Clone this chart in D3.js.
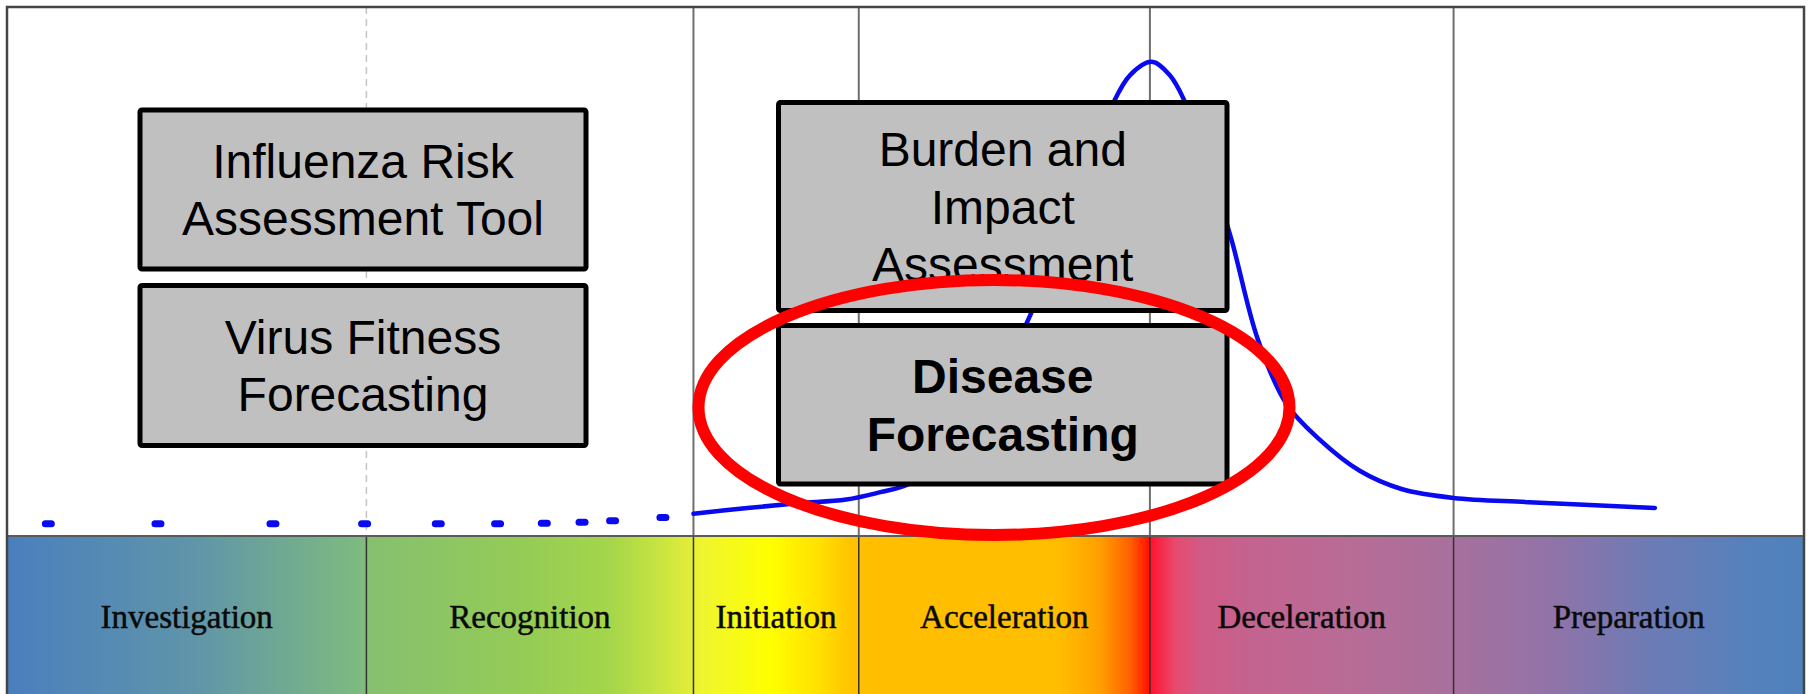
<!DOCTYPE html>
<html>
<head>
<meta charset="utf-8">
<script src="https://cdn.jsdelivr.net/npm/d3@7"></script>
<style>
  body { margin: 0; background: #fff; }
  svg  { display: block; }
</style>
</head>
<body>
<div id="chart"></div>
<script>
// Pandemic intervals diagram: epidemic curve over the six phases, with the tool boxes on top.
//

const phaseNames  = ['Investigation', 'Recognition', 'Initiation', 'Acceleration', 'Deceleration', 'Preparation'];
const phaseBounds = [0, 20, 38.2, 47.4, 63.6, 80.5, 100];          // x (0-100) where each phase starts / ends

const dotX = [2.3, 8.4, 14.8, 19.9, 24.0, 27.3, 29.9, 32.0, 33.7, 36.5];      // dotted (early) part of the curve
const dotY = [2.3, 2.3, 2.3, 2.3, 2.3, 2.3, 2.4, 2.6, 2.9, 3.5];

const curveX = [38.2, 41.2, 44.0, 46.7, 48.6, 50.1, 51.9, 53.6, 55.3, 56.9, 58.6, 60.3, 61.5, 62.5,
                63.7, 64.7, 65.5, 66.8, 68.1, 69.6, 71.2, 73.0, 75.3, 77.6, 80.5, 84.7, 91.7];
const curveY = [4.2, 5.3, 6.2, 6.9, 8.3, 9.7, 13.5, 20.1, 30.5, 41.5, 56.1, 71.2, 81.6, 87.3,
                89.8, 87.3, 82.6, 70.3, 56.6, 37.3, 25.0, 18.4, 12.3, 8.9, 7.2, 6.4, 5.3];

const boxLabels = [['Influenza Risk', 'Assessment Tool'],
                   ['Virus Fitness', 'Forecasting'],
                   ['Burden and', 'Impact', 'Assessment'],
                   ['Disease', 'Forecasting']];


function drawIntervals(containerId)
{
  const width = 1810, height = 694;
  const frame = { left: 7, right: 1804, top: 7, bandTop: 536 };

  const x = d3.scaleLinear().domain([0, 100]).range([frame.left, frame.right]);
  const y = d3.scaleLinear().domain([0, 100]).range([frame.bandTop, 8]);

  const svg = d3.select('#' + containerId)
                .append('svg')
                .attr('width', width)
                .attr('height', height);

  // --- Phase colour band ---
  const stops = [[0, '#4a7fbf'], [10.2, '#5f94aa'], [19.6, '#7dba80'], [20.2, '#86c070'], [29.1, '#95cc55'],
                 [33.6, '#a5d64a'], [36.3, '#c8e440'], [38.0, '#e2ec38'], [38.6, '#eef530'], [42.5, '#ffff00'],
                 [45.2, '#ffe000'], [47.2, '#ffc000'], [58.6, '#ffbd00'], [60.8, '#ffa000'], [62.5, '#ff6000'],
                 [63.5, '#ff1500'], [63.7, '#ff1530'], [65.0, '#e84a6e'], [66.4, '#d05a85'], [69.2, '#c4638f'],
                 [74.7, '#b86c96'], [80.3, '#a8709c'], [85.9, '#9173a8'], [91.4, '#6d7bb5'], [97.0, '#5581bc'],
                 [100, '#4f81bd']];
  const grad = svg.append('defs')
                  .append('linearGradient')
                  .attr('id', 'phaseGrad')
                  .attr('gradientUnits', 'userSpaceOnUse')
                  .attr('x1', x(0)).attr('x2', x(100))
                  .attr('y1', 0).attr('y2', 0);
  grad.selectAll('stop')
      .data(stops)
      .enter()
      .append('stop')
      .attr('offset', d => d[0] + '%')
      .attr('stop-color', d => d[1]);

  svg.append('rect')
     .attr('x', x(0)).attr('y', frame.bandTop)
     .attr('width', x(100) - x(0)).attr('height', height - frame.bandTop + 5)
     .attr('fill', 'url(#phaseGrad)');

  const phases = phaseNames.map((name, i) => ({ name: name, x0: phaseBounds[i], x1: phaseBounds[i + 1] }));

  svg.selectAll('text.phase')
     .data(phases)
     .enter()
     .append('text')
     .attr('class', 'phase')
     .attr('x', d => (x(d.x0) + x(d.x1)) / 2)
     .attr('y', 628)
     .attr('text-anchor', 'middle')
     .style('font-family', '"Liberation Serif", "Times New Roman", serif')
     .style('font-size', '33px')
     .attr('fill', '#0a0a0a')
     .attr('stroke', '#0a0a0a')
     .attr('stroke-width', 0.5)
     .text(d => d.name);

  // --- Phase dividers (dashed above the band for the first one) ---
  const inner = phaseBounds.slice(1, -1);
  svg.selectAll('line.divTop')
     .data(inner)
     .enter()
     .append('line')
     .attr('x1', d => x(d)).attr('x2', d => x(d))
     .attr('y1', frame.top).attr('y2', frame.bandTop)
     .attr('stroke', (d, i) => i === 0 ? '#c4c4c4' : '#6e6e6e')
     .attr('stroke-width', (d, i) => i === 0 ? 1.5 : 2)
     .attr('stroke-dasharray', (d, i) => i === 0 ? '7,5' : null);

  svg.selectAll('line.divBand')
     .data(inner)
     .enter()
     .append('line')
     .attr('x1', d => x(d)).attr('x2', d => x(d))
     .attr('y1', frame.bandTop).attr('y2', height)
     .attr('stroke', '#333')
     .attr('stroke-width', 1.5);

  svg.append('line')                                               // band top edge
     .attr('x1', x(0)).attr('x2', x(100))
     .attr('y1', frame.bandTop).attr('y2', frame.bandTop)
     .attr('stroke', '#5a5a5a').attr('stroke-width', 2);

  svg.append('path')                                               // outer frame (open at the bottom)
     .attr('d', `M${x(0)},${height}V${frame.top}H${x(100)}V${height}`)
     .attr('fill', 'none')
     .attr('stroke', '#444')
     .attr('stroke-width', 2.5);

  // --- Epidemic curve ---
  const dots = dotX.map((v, i) => ({ x: v, y: dotY[i] }));
  svg.selectAll('rect.dot')
     .data(dots)
     .enter()
     .append('rect')
     .attr('class', 'dot')
     .attr('x', d => x(d.x) - 6.5).attr('y', d => y(d.y) - 3.5)
     .attr('width', 13).attr('height', 7)
     .attr('rx', 3.5)
     .attr('fill', '#0a0af0');

  const pts = curveX.map((v, i) => [v, curveY[i]]);
  const line = d3.line()
                 .x(d => x(d[0]))
                 .y(d => y(d[1]))
                 .curve(d3.curveCatmullRom.alpha(0.5));

  svg.append('path')
     .attr('d', line(pts))
     .attr('fill', 'none')
     .attr('stroke', '#0a0af0')
     .attr('stroke-width', 4.5)
     .attr('stroke-linecap', 'round');

  // --- Tool boxes ---
  const boxes = [ { x: 140,   y: 110,   w: 446,   h: 159,   bold: false },
                  { x: 140,   y: 285.5, w: 446,   h: 160,   bold: false },
                  { x: 778.5, y: 102.5, w: 448.5, h: 208,   bold: false },
                  { x: 778.5, y: 325.5, w: 448.5, h: 158.5, bold: true  } ];
  const lineGap = 57.5, capHalf = 17.2;

  const g = svg.selectAll('g.box')
               .data(boxes.map((b, i) => Object.assign({ lines: boxLabels[i] }, b)))
               .enter()
               .append('g')
               .attr('class', 'box');

  g.append('rect')
   .attr('x', d => d.x).attr('y', d => d.y)
   .attr('width', d => d.w).attr('height', d => d.h)
   .attr('rx', 2)
   .attr('fill', '#c0c0c0')
   .attr('stroke', '#000')
   .attr('stroke-width', 5);

  g.each(function(d) {
      const cy = d.y + d.h / 2;
      const first = cy - (d.lines.length - 1) * lineGap / 2 + capHalf;
      d3.select(this).selectAll('text')
        .data(d.lines)
        .enter()
        .append('text')
        .attr('x', d.x + d.w / 2)
        .attr('y', (t, i) => first + i * lineGap)
        .attr('text-anchor', 'middle')
        .style('font-family', '"Liberation Sans", Arial, sans-serif')
        .style('font-size', '48px')
        .style('font-weight', d.bold ? 'bold' : 'normal')
        .attr('fill', '#000')
        .text(t => t);
  });

  // --- Highlight ellipse round Disease Forecasting ---
  svg.append('ellipse')
     .attr('cx', 994).attr('cy', 407.5)
     .attr('rx', 295.5).attr('ry', 127.5)
     .attr('fill', 'none')
     .attr('stroke', '#ff0000')
     .attr('stroke-width', 12);
}

drawIntervals('chart');
</script>
</body>
</html>
